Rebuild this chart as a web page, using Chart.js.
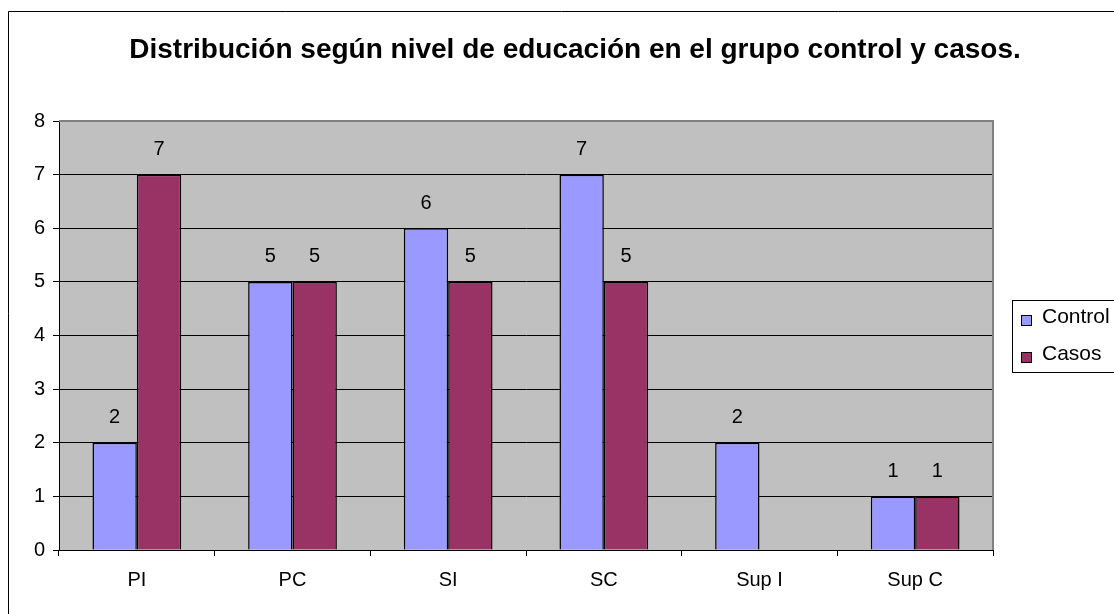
<!DOCTYPE html>
<html>
<head>
<meta charset="utf-8">
<script src="https://cdn.jsdelivr.net/npm/chart.js@4/dist/chart.umd.min.js"></script>
<style>
  html, body { margin: 0; padding: 0; background: #fff; }
  #wrap { width: 1114px; height: 614px; }
</style>
</head>
<body>
<div id="wrap"><canvas id="chart"></canvas></div>
<script>
const categories = ["PI", "PC", "SI", "SC", "Sup I", "Sup C"];
const controlValues = [2, 5, 6, 7, 2, 1];
const casosValues = [7, 5, 5, 5, null, 1];
const yTicks = [0, 1, 2, 3, 4, 5, 6, 7, 8];
const titleText = "Distribución según nivel de educación en el grupo control y casos.";

const FONT = "'Liberation Sans', Arial, sans-serif";

// gray plot area, outer frame, title, legend and value labels
const decor = {
  id: "decor",
  beforeDraw(chart) {
    const { ctx, chartArea: a } = chart;
    ctx.save();
    ctx.fillStyle = "#fff";
    ctx.fillRect(0, 0, chart.width, chart.height);
    ctx.fillStyle = "#c0c0c0";
    ctx.fillRect(a.left, a.top, a.right - a.left, a.bottom - a.top);
    ctx.strokeStyle = "#000";
    ctx.lineWidth = 1;
    ctx.beginPath();
    ctx.moveTo(8.5, chart.height + 5);
    ctx.lineTo(8.5, 11.5);
    ctx.lineTo(chart.width + 5, 11.5);
    ctx.stroke();
    ctx.fillStyle = "#000";
    ctx.font = "bold 28px " + FONT;
    ctx.textAlign = "center";
    ctx.textBaseline = "alphabetic";
    ctx.fillText(titleText, 575, 58);
    ctx.restore();
  },
  afterDraw(chart) {
    const { ctx, chartArea: a } = chart;
    ctx.save();
    ctx.strokeStyle = "#808080";
    ctx.lineWidth = 2;
    ctx.beginPath();
    ctx.moveTo(a.left, a.top);
    ctx.lineTo(a.right, a.top);
    ctx.lineTo(a.right, a.bottom);
    ctx.stroke();

    ctx.fillStyle = "#000";
    ctx.font = "20px " + FONT;
    ctx.textAlign = "center";
    ctx.textBaseline = "middle";
    chart.data.datasets.forEach((ds, i) => {
      chart.getDatasetMeta(i).data.forEach((bar, j) => {
        const v = ds.data[j];
        if (v === null || v === undefined) return;
        ctx.fillText(String(v), bar.x, bar.y - 25);
      });
    });

    // legend
    ctx.strokeStyle = "#000";
    ctx.lineWidth = 1;
    ctx.fillStyle = "#fff";
    ctx.fillRect(1012.5, 300.5, 120, 72);
    ctx.strokeRect(1012.5, 300.5, 120, 72);
    ctx.font = "21px " + FONT;
    const rows = [317, 354];
    chart.data.datasets.forEach((ds, i) => {
      const y = rows[i];
      ctx.fillStyle = ds.backgroundColor;
      ctx.fillRect(1021.5, y - 1.5, 10, 10);
      ctx.strokeRect(1021.5, y - 1.5, 10, 10);
      ctx.fillStyle = "#000";
      ctx.textAlign = "left";
      ctx.fillText(ds.label, 1042, y);
    });
    ctx.restore();
  }
};

new Chart(document.getElementById("chart"), {
  type: "bar",
  data: {
    labels: categories,
    datasets: [
      { label: "Control", data: controlValues, backgroundColor: "#9999ff", borderColor: "#000", borderWidth: 1.5 },
      { label: "Casos", data: casosValues, backgroundColor: "#993366", borderColor: "#000", borderWidth: 1.5 }
    ]
  },
  options: {
    responsive: true,
    maintainAspectRatio: false,
    animation: false,
    layout: { padding: { left: 8, top: 121, right: 121, bottom: 0 } },
    plugins: { legend: { display: false }, title: { display: false }, tooltip: { enabled: false } },
    datasets: { bar: { categoryPercentage: 0.57, barPercentage: 1 } },
    scales: {
      x: {
        afterFit(s) { s.height = 64; },
        grid: { drawOnChartArea: false, offset: true, tickLength: 6, color: "#000" },
        border: { color: "#000", width: 1 },
        ticks: { color: "#000", font: { family: FONT, size: 20 }, padding: 12 }
      },
      y: {
        min: 0,
        max: 8,
        afterFit(s) { s.width = 51; },
        afterBuildTicks(s) { s.ticks = yTicks.map(v => ({ value: v })); },
        grid: { color: "#000", tickLength: 6, lineWidth: 1 },
        border: { color: "#000", width: 1 },
        ticks: { color: "#000", font: { family: FONT, size: 20 }, padding: 8 }
      }
    }
  },
  plugins: [decor]
});
</script>
</body>
</html>
